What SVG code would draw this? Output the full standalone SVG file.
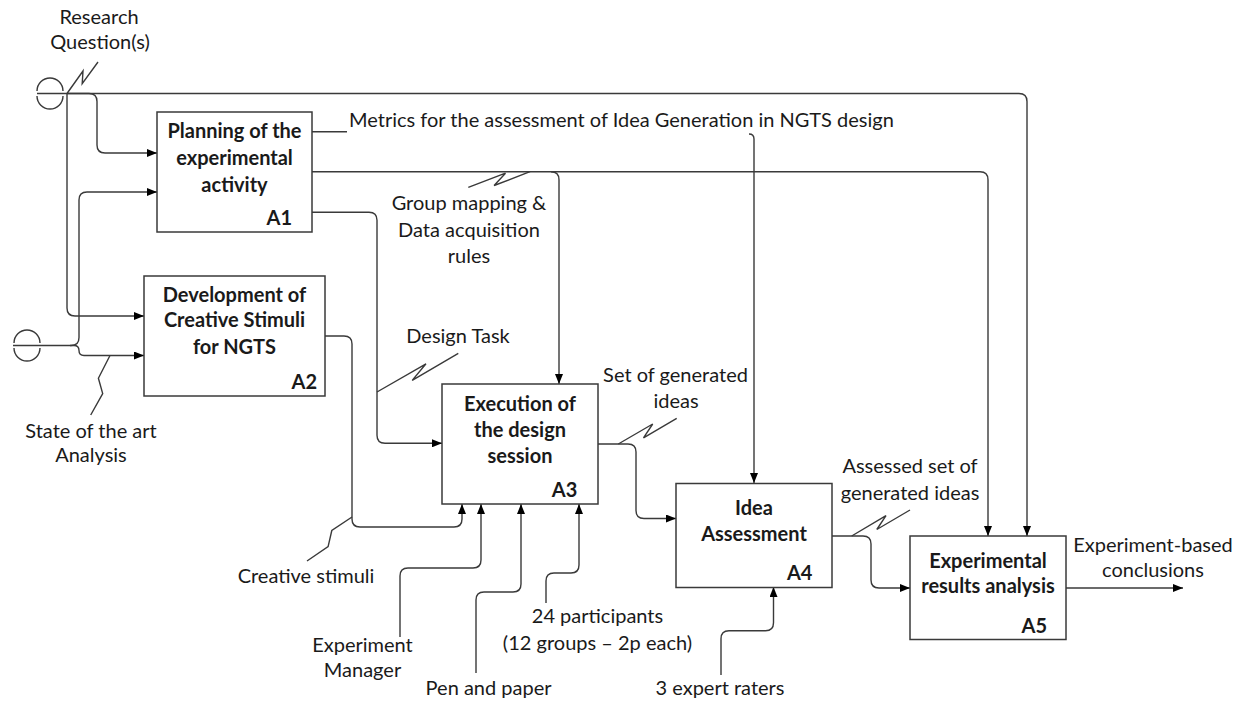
<svg xmlns="http://www.w3.org/2000/svg" width="1244" height="704" viewBox="0 0 1244 704">
<style>
.box{fill:#fff;stroke:#3a3a3a;stroke-width:1.5}
.ln{fill:none;stroke:#3a3a3a;stroke-width:1.4}
.arr{marker-end:url(#ah)}
.t{font-family:Lato,"Liberation Sans",sans-serif;font-size:20px;fill:#1a1a1a;text-anchor:middle}
.b{font-weight:bold}
.id{font-weight:bold;text-anchor:end}
</style>
<defs>
<marker id="ah" viewBox="0 0 10 8" refX="10" refY="4" markerWidth="10" markerHeight="8" markerUnits="userSpaceOnUse" orient="auto">
<path d="M0,0 L10,4 L0,8 z" fill="#000"/>
</marker>
</defs>
<rect width="1244" height="704" fill="#fff"/>

<g id="connectors">
<!-- tunnels -->
<path class="ln" d="M37 91 A13 13 0 0 1 63 91 M37 96 A13 13 0 0 0 63 96"/>
<path class="ln" d="M14 343 A13 13 0 0 1 40 343 M14 348 A13 13 0 0 0 40 348"/>
<!-- Research Question(s) -->
<path class="ln arr" d="M37 93.5 H1019 Q1027 93.5 1027 101.5 V536"/>
<path class="ln arr" d="M67 93.5 H89 Q97 93.5 97 101.5 V145 Q97 153 105 153 H157"/>
<path class="ln arr" d="M67 93.5 V308 Q67 316 75 316 H144"/>
<polyline class="ln" points="67,93.5 83,71 82.2,83.7 98,62"/>
<!-- State of the art -->
<path class="ln arr" d="M13 345.5 H71 Q79 345.5 79 337.5 V200 Q79 192 87 192 H157"/>
<path class="ln arr" d="M70 345.5 H74 Q79 345.5 79 350.5 Q79 355.5 84 355.5 H144"/>
<polyline class="ln" points="90.7,415 102.7,393.6 98.4,378.3 110,355.5"/>
<!-- Metrics -->
<path class="ln" d="M312 131.7 H347"/>
<path class="ln arr" d="M749 134 Q754 134 754 139 V483"/>
<!-- Group mapping -->
<path class="ln arr" d="M312 171.7 H551 Q559 171.7 559 179.7 V384"/>
<path class="ln arr" d="M551 171.7 H980 Q988 171.7 988 179.7 V536"/>
<polyline class="ln" points="468.3,187.3 505.5,173.2 494.1,185.5 530,171.7"/>
<!-- Design Task -->
<path class="ln arr" d="M312 212.3 H369 Q377 212.3 377 220.3 V435.3 Q377 443.3 385 443.3 H442"/>
<polyline class="ln" points="377,392 426,363.8 412.2,380.4 458.3,353.3"/>
<!-- Creative stimuli -->
<path class="ln arr" d="M325 336 H344 Q352 336 352 344 V519 Q352 527 360 527 H454 Q462 527 462 519 V504"/>
<polyline class="ln" points="307,561 328.1,546.6 331.8,530.5 352,517"/>
<!-- Experiment Manager -->
<path class="ln arr" d="M400 637 V576 Q400 568 408 568 H473 Q481 568 481 560 V504"/>
<!-- Pen and paper -->
<path class="ln arr" d="M476 673 V600 Q476 592 484 592 H513 Q521 592 521 584 V504"/>
<!-- 24 participants -->
<path class="ln arr" d="M546 603 V581 Q546 573 554 573 H571 Q579 573 579 565 V504"/>
<!-- A3 to A4 -->
<path class="ln arr" d="M598 444 H628 Q636 444 636 452 V510.5 Q636 518.5 644 518.5 H676"/>
<polyline class="ln" points="618.3,444 652.7,424 643.5,437.8 676.7,418.3"/>
<!-- 3 expert raters -->
<path class="ln arr" d="M721 675 V638.7 Q721 630.7 729 630.7 H765.5 Q773.5 630.7 773.5 622.7 V587"/>
<!-- A4 to A5 -->
<path class="ln arr" d="M832 536 H863 Q871 536 871 544 V580 Q871 588 879 588 H910"/>
<polyline class="ln" points="851.7,536 886,515.7 876.8,529.5 910,510"/>
<!-- output -->
<path class="ln arr" d="M1066 588 H1183"/>
</g>

<g id="A1">
<rect class="box" x="157" y="112" width="155" height="120"/>
<text class="t b" x="234.5" y="138.3">Planning of the</text>
<text class="t b" x="234.5" y="165">experimental</text>
<text class="t b" x="234.5" y="191.7">activity</text>
<text class="t id" x="292" y="225">A1</text>
</g>
<g id="A2">
<rect class="box" x="144" y="276" width="181" height="120"/>
<text class="t b" x="234.5" y="301.7">Development of</text>
<text class="t b" x="234.5" y="327.3">Creative Stimuli</text>
<text class="t b" x="234.5" y="354">for NGTS</text>
<text class="t id" x="317" y="389.3">A2</text>
</g>
<g id="A3">
<rect class="box" x="442" y="384" width="156" height="120"/>
<text class="t b" x="520" y="410.5">Execution of</text>
<text class="t b" x="520" y="436.7">the design</text>
<text class="t b" x="520" y="462.7">session</text>
<text class="t id" x="577.3" y="496.7">A3</text>
</g>
<g id="A4">
<rect class="box" x="676" y="483.5" width="156" height="104"/>
<text class="t b" x="754" y="515">Idea</text>
<text class="t b" x="754" y="540.7">Assessment</text>
<text class="t id" x="812.4" y="580">A4</text>
</g>
<g id="A5">
<rect class="box" x="910" y="536" width="156" height="103.5"/>
<text class="t b" x="988" y="568.3">Experimental</text>
<text class="t b" x="988" y="593.3">results analysis</text>
<text class="t id" x="1047" y="632.7">A5</text>
</g>

<g id="labels">
<text class="t" x="99" y="24">Research</text>
<text class="t" x="100" y="49">Question(s)</text>
<text class="t" x="349" y="126.5" style="text-anchor:start">Metrics for the assessment of Idea Generation in NGTS design</text>
<text class="t" x="469" y="210">Group mapping &amp;</text>
<text class="t" x="469" y="236.7">Data acquisition</text>
<text class="t" x="469" y="263">rules</text>
<text class="t" x="458" y="343">Design Task</text>
<text class="t" x="675.5" y="381.7">Set of generated</text>
<text class="t" x="676" y="408.3">ideas</text>
<text class="t" x="91" y="438">State of the art</text>
<text class="t" x="91" y="462">Analysis</text>
<text class="t" x="306" y="583.3">Creative stimuli</text>
<text class="t" x="362.5" y="651.7">Experiment</text>
<text class="t" x="362.5" y="676.7">Manager</text>
<text class="t" x="488.6" y="695">Pen and paper</text>
<text class="t" x="597.5" y="623.3">24 participants</text>
<text class="t" x="597.5" y="650">(12 groups – 2p each)</text>
<text class="t" x="720" y="695">3 expert raters</text>
<text class="t" x="910" y="473.3">Assessed set of</text>
<text class="t" x="910" y="500">generated ideas</text>
<text class="t" x="1153" y="552">Experiment-based</text>
<text class="t" x="1153" y="577">conclusions</text>
</g>
</svg>
